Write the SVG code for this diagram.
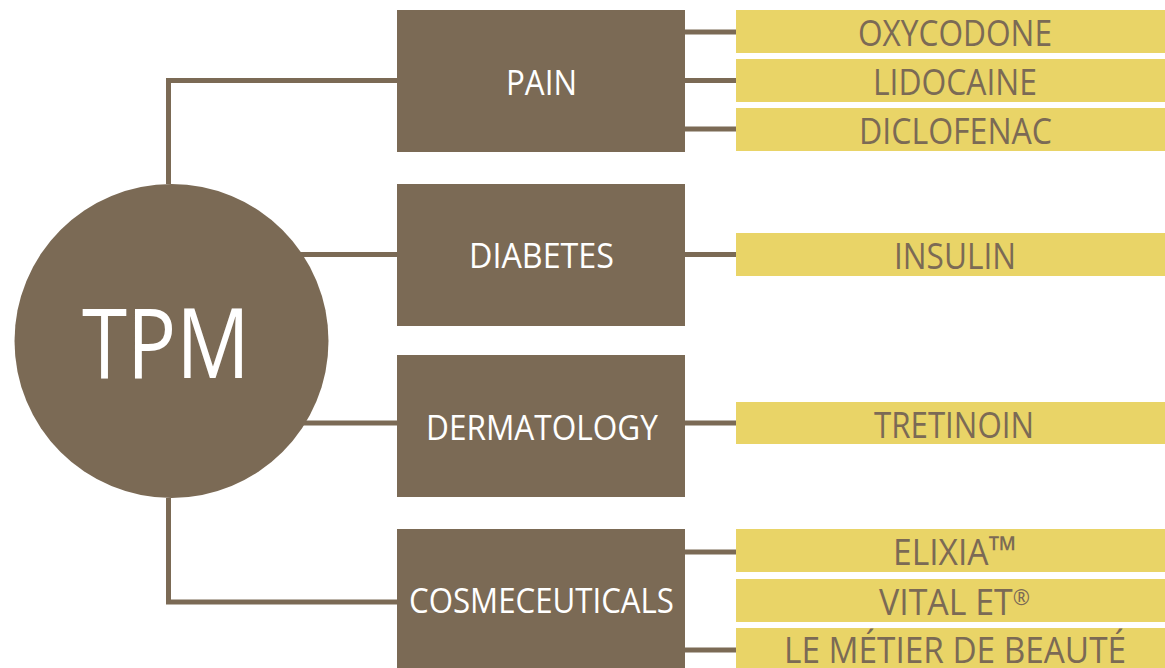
<svg xmlns="http://www.w3.org/2000/svg" width="1165" height="668" viewBox="0 0 1165 668">
<style>
.cat{fill:#7b6a55}
.prod{fill:#e9d467}
.ct{font-family:'Open Sans','Noto Sans',sans-serif;font-size:34px;fill:#ffffff}
.pt{font-family:'Open Sans','Noto Sans',sans-serif;font-size:36px;font-weight:500;fill:#7b6a55}
.conn{fill:none;stroke:#7b6a55;stroke-width:5}
</style>
<rect width="1165" height="668" fill="#ffffff"/>
<g id="connectors">
<path class="conn" d="M168.5 184 V80.5 H397"/>
<path class="conn" d="M168.5 498 V602 H397"/>
<path class="conn" d="M300 254.5 H397"/>
<path class="conn" d="M300 423 H397"/>
<path class="conn" d="M685 32 H736 M685 80.5 H736 M685 129 H736"/>
<path class="conn" d="M685 254.5 H736"/>
<path class="conn" d="M685 423 H736"/>
<path class="conn" d="M685 552 H736 M685 650 H736"/>
</g>
<g id="tpm">
<circle cx="171.5" cy="341" r="157" fill="#7b6a55"/>
<text x="82" y="378" font-family="'Open Sans','Noto Sans',sans-serif" font-size="97" fill="#ffffff" textLength="168" lengthAdjust="spacingAndGlyphs">TPM</text>
</g>
<g id="pain">
<rect class="cat" x="397" y="10" width="288" height="142"/>
<text class="ct" x="506" y="95" textLength="71" lengthAdjust="spacingAndGlyphs">PAIN</text>
</g>
<g id="diabetes">
<rect class="cat" x="397" y="184" width="288" height="142"/>
<text class="ct" x="469" y="268" textLength="145" lengthAdjust="spacingAndGlyphs">DIABETES</text>
</g>
<g id="dermatology">
<rect class="cat" x="397" y="355" width="288" height="142"/>
<text class="ct" x="426" y="440" textLength="232" lengthAdjust="spacingAndGlyphs">DERMATOLOGY</text>
</g>
<g id="cosmeceuticals">
<rect class="cat" x="397" y="529" width="288" height="150"/>
<text class="ct" x="409" y="613" textLength="265" lengthAdjust="spacingAndGlyphs">COSMECEUTICALS</text>
</g>
<g id="oxycodone">
<rect class="prod" x="736" y="10" width="429" height="43"/>
<text class="pt" x="858" y="46" textLength="194" lengthAdjust="spacingAndGlyphs">OXYCODONE</text>
</g>
<g id="lidocaine">
<rect class="prod" x="736" y="59" width="429" height="43"/>
<text class="pt" x="873" y="95" textLength="164" lengthAdjust="spacingAndGlyphs">LIDOCAINE</text>
</g>
<g id="diclofenac">
<rect class="prod" x="736" y="108" width="429" height="43"/>
<text class="pt" x="859" y="144" textLength="193" lengthAdjust="spacingAndGlyphs">DICLOFENAC</text>
</g>
<g id="insulin">
<rect class="prod" x="736" y="233" width="429" height="43"/>
<text class="pt" x="894" y="269" textLength="122" lengthAdjust="spacingAndGlyphs">INSULIN</text>
</g>
<g id="tretinoin">
<rect class="prod" x="736" y="402" width="429" height="42"/>
<text class="pt" x="874" y="438" textLength="160" lengthAdjust="spacingAndGlyphs">TRETINOIN</text>
</g>
<g id="elixia">
<rect class="prod" x="736" y="529" width="429" height="43"/>
<text class="pt" x="893" y="565" textLength="124" lengthAdjust="spacingAndGlyphs">ELIXIA<tspan font-size="40" font-weight="400">™</tspan></text>
</g>
<g id="vital-et">
<rect class="prod" x="736" y="579" width="429" height="43"/>
<text class="pt" x="879" y="615" textLength="151" lengthAdjust="spacingAndGlyphs">VITAL ET<tspan font-size="22" font-weight="400" dy="-10">®</tspan></text>
</g>
<g id="le-metier">
<rect class="prod" x="736" y="628" width="429" height="45"/>
<text class="pt" x="784" y="663" textLength="342" lengthAdjust="spacingAndGlyphs">LE MÉTIER DE BEAUTÉ</text>
</g>
</svg>
